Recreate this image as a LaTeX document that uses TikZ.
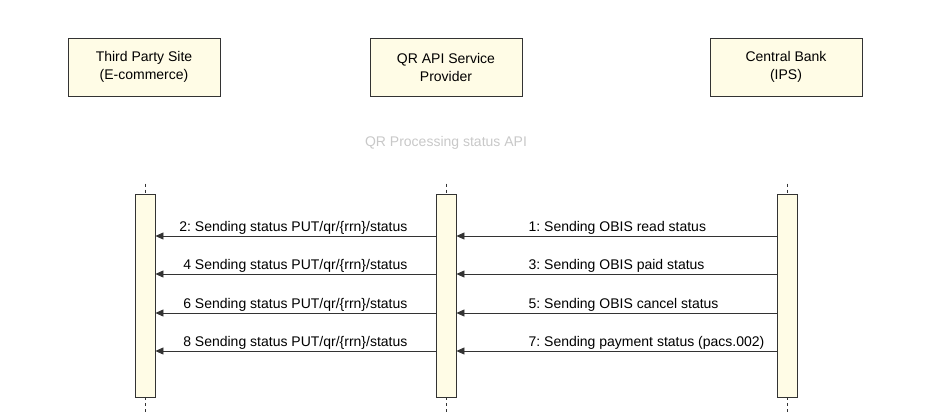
\documentclass[tikz,border=0pt]{standalone}
\usepackage{fontspec}
\setmainfont{Liberation Sans}
\usetikzlibrary{arrows.meta,calc}
\definecolor{boxfill}{HTML}{FFFCE6}
\definecolor{titlegrey}{HTML}{C8C8C8}
\definecolor{edge}{HTML}{333333}
\frenchspacing
\begin{document}
\begin{tikzpicture}[x=1pt,y=-1pt,
  headbox/.style={draw=edge,fill=boxfill,line width=0.8pt,minimum width=152pt,minimum height=58pt,align=center,font=\fontsize{14}{18}\selectfont,inner sep=0pt},
  actbar/.style={draw=edge,fill=boxfill,line width=0.8pt,minimum width=20pt,minimum height=203pt,inner sep=0pt},
  life/.style={draw=edge,dashed,dash pattern=on 3pt off 3pt,line width=0.6pt},
  msg/.style={draw=black!80,line width=0.8pt,-{Triangle[length=8pt,width=7pt]}},
  lbl/.style={font=\fontsize{14}{16}\selectfont,inner sep=0pt,yshift=1pt}]
\useasboundingbox (0,0) rectangle (952,412);
\node[headbox] (h1) at (144,67) {Third Party Site\\(E-commerce)};
\node[headbox] (h2) at (446,67) {QR API Service\\Provider};
\node[headbox] (h3) at (786,67) {Central Bank\\(IPS)};
\node[text=titlegrey,font=\fontsize{14}{16}\selectfont] (title) at (446,143) {QR Processing status API};
\node[actbar] (b1) at (145,295.5) {};
\node[actbar] (b2) at (446,295.5) {};
\node[actbar] (b3) at (787,295.5) {};
\foreach \b in {b1,b2,b3}{
  \coordinate (\b t) at ([yshift=10pt]\b.north);
  \coordinate (\b b) at ([yshift=-16pt]\b.south);
  \draw[life] (\b t) -- (\b.north);
  \draw[life] (\b.south) -- (\b b);
}
\foreach \y/\i/\lt/\rt in {
  236/1/{2: Sending status PUT/qr/\{rrn\}/status}/{1: Sending OBIS read status},
  274/2/{4 Sending status PUT/qr/\{rrn\}/status}/{3: Sending OBIS paid status},
  313/3/{6 Sending status PUT/qr/\{rrn\}/status}/{5: Sending OBIS cancel status},
  351/4/{8 Sending status PUT/qr/\{rrn\}/status}/{7: Sending payment status (pacs.002)}}{
  \coordinate (l\i) at (b1.east |- 0,\y);
  \coordinate (ml\i) at (b2.west |- 0,\y);
  \coordinate (mr\i) at (b2.east |- 0,\y);
  \coordinate (r\i) at (b3.west |- 0,\y);
  \draw[msg] (ml\i) -- (l\i);
  \draw[msg] (r\i) -- (mr\i);
  \node[lbl,anchor=south east] (lt\i) at ([xshift=-28pt]ml\i) {\lt};
  \node[lbl,anchor=south west] (rt\i) at ([xshift=72pt]mr\i) {\rt};
}
\end{tikzpicture}
\end{document}
